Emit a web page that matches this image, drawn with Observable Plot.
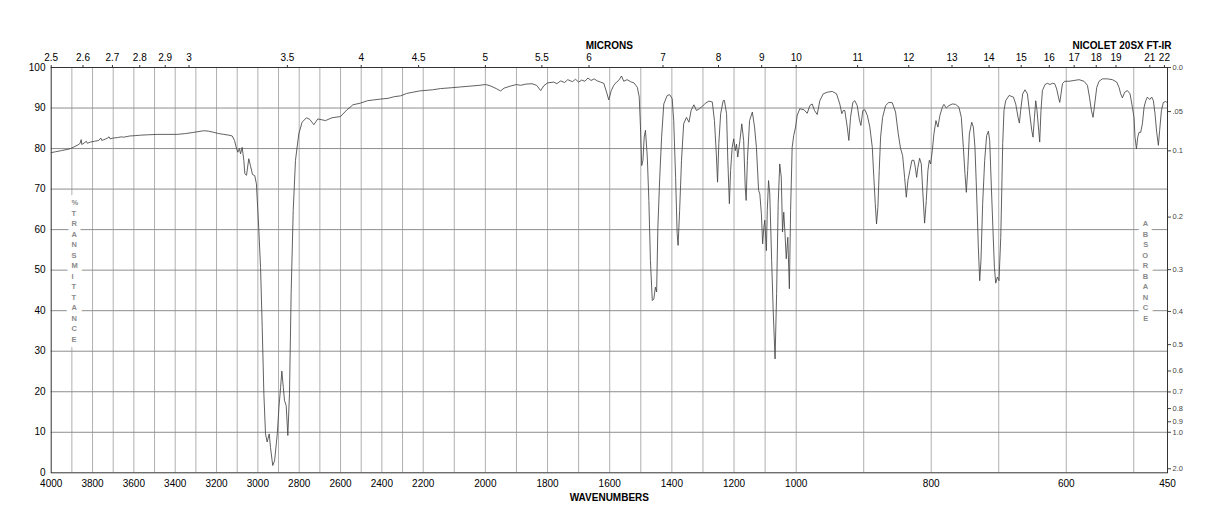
<!DOCTYPE html>
<html><head><meta charset="utf-8">
<script src="https://cdn.jsdelivr.net/npm/d3@7"></script>
<script src="https://cdn.jsdelivr.net/npm/@observablehq/plot@0.6"></script>
<style>body{margin:0;background:#fff}</style>
</head><body><div id="chart"></div>
<script>
// Spectrum (wavenumber cm-1, % transmittance)
const wavenumbers = [
4000,3980,3950,3920,3907,3890,3870,3860,3855,3852,3840,3830,3825,3810,3790,3770,3760,3755,3745,3730,3720,3715,3700,3680,3660,3649,3620,3590,3568,3530,3487,3440,3390,3350,3310,3262,3240,3213,3190,3165,3140,3124,3113,3103,3097,3089,3084,3076,3068,3063,3055,3044,3036,3026,3015,3007,2996,2987,2979,2971,2963,2955,2945,2939,2928,2919,2906,2898,2890,2884,2877,2871,2863,2855,2847,2839,2829,2818,2802,2786,2765,2749,2729,2710,2690,2673,2641,2600,
2570,2540,2504,2470,2440,2407,2370,2340,2310,2280,2250,2220,2200,2170,2144,2110,2080,2050,2020,1999,1985,1965,1951,1940,1920,1900,1887,1870,1850,1835,1822,1812,1800,1780,1770,1758,1745,1735,1720,1710,1700,1690,1680,1670,1660,1650,1640,
1629.5,1619,1610,1603,1595,1587,1578,1571,1562,1555,1544,1533,1522,1511,1505,1501,1497,1493,1489,1485,1479,1474,1469,1463,1458,1453,1449,1445,1439,1433,1426,1415,1407,1399,1394,1388,1383,1380,1375,1369,1362,1353,1345,1338,1329,1321,1312,1302,1292,1281,1270,1263,1257,1253,1249,1243,1235,1231,1224,1220,1215,1211,1206,1201,1196,1192,1188,1181,1175,1169,1164,1161,1157,1150,1141,1134,1128,1121,1117,1112,1108,1104,1101,1096,1093,1089,1085,1079,1074,1068,1063,1058,1053,1048,1044,1040,1036,1032,1027,1022,1018,1013,1008,1002,
998.5,994.7,988.7,983.7,979.8,976.3,972.9,968.9,965,960,954,946.6,940.2,935.4,932.4,930.3,928,924.4,922,919.5,916.1,913.1,909.6,906.6,904.2,901.3,898.3,894.7,890.9,887.3,885,882.9,881,879,877,875,872,867.6,862.7,857.7,852.8,848.8,845.4,842.4,839.4,836.9,834.5,831.6,828.6,825.6,823.6,821.6,819.7,817.2,814.7,812.3,809.8,807.3,804.9,802.8,800.9,798.4,796,793,790.1,787.1,783.5,781.2,777.6,773.8,768.7,763.8,758.9,755.4,752.4,750,748,746,743.5,740,737.6,735.2,732.7,730.2,728.2,726.3,723.8,720.8,717.9,715.3,713.4,710.9,708.5,706.4,704.5,702,699.6,697,695.6,694.1,692.2,689.7,684.7,678.3,674.8,671.4,669.4,667.5,664.5,661.1,657.5,654.1,651.1,649.2,647.1,645.2,643.3,641.2,639.3,637.4,635.3,631.4,628,624.1,620.5,617.1,614.1,611.6,609.6,607.7,605.6,602.2,595.8,588.4,581,573.6,568.6,565.6,562.7,560.3,557.8,554.8,551.4,546.4,539,531.6,525.2,521.8,519.3,516.8,513.4,509.4,505.5,502,499.6,498.1,496,494.1,492.2,489.7,487.2,484.7,482.2,479.8,476.3,473.4,470.9,468.5,466,463.5,461.6,459,456.1,452.7,450
];
const transmittance = [
79.0,79.2,79.5,79.8,80.0,80.4,80.9,81.3,82.2,81.0,81.4,81.8,81.3,81.6,81.8,82.0,82.6,82.0,82.2,82.5,82.9,82.4,82.6,82.7,82.9,82.8,83.1,83.2,83.3,83.4,83.5,83.5,83.5,83.7,84.0,84.4,84.3,84.0,83.7,83.5,83.3,83.1,82.0,80.0,79.1,80.0,78.7,80.3,77.1,73.8,73.4,77.5,75.8,73.6,73.3,71.3,60.6,50.7,35.9,19.5,9.6,7.6,9.6,6.3,1.8,3.0,9.6,16.2,21.1,25.1,21.1,17.8,16.6,9.2,19.5,44.2,64.7,77.1,83.6,86.5,87.6,87.2,85.9,87.3,87.1,86.9,87.6,87.9,
89.5,90.8,91.2,91.8,92.0,92.2,92.4,92.8,93.0,93.6,93.9,94.2,94.3,94.5,94.8,95.0,95.2,95.4,95.6,95.8,95.5,94.8,94.2,94.9,95.4,95.8,95.6,95.9,96.0,95.6,94.3,95.5,96.2,96.4,96.0,96.7,96.3,97.0,96.5,97.1,96.4,96.9,96.6,97.4,96.8,97.2,96.7,
96.4,96.1,93.9,92.0,94.3,95.6,96.4,96.8,97.9,96.6,97.0,96.5,96.2,95.1,92.7,85.3,75.8,77.1,82.8,84.5,77.9,67.2,52.4,42.5,42.9,45.8,44.6,60.6,72.9,82.8,91.0,93.1,93.3,92.3,86.9,72.9,59.0,56.1,64.7,77.1,86.1,87.7,86.5,89.4,90.8,89.4,89.8,90.4,91.2,91.7,91.5,86.9,78.7,71.7,81.2,88.6,91.8,91.9,88.6,77.1,66.4,74.6,80.3,82.4,79.5,81.1,77.9,82.0,86.1,82.0,70.5,67.2,77.1,86.9,89.0,85.3,80.3,69.7,68.8,63.9,56.5,60.6,62.3,54.8,64.7,72.1,68.8,52.4,40.0,28.1,44.2,66.4,76.2,72.9,59.4,64.3,59.0,52.8,58.1,45.4,64.7,80.3,83.2,85.3,
88.2,89.8,89.6,88.7,90.6,91.0,89.4,88.4,91.8,93.5,93.9,94.1,93.5,91.0,88.6,89.4,89.4,85.3,82.0,87.7,91.4,91.8,90.6,87.3,85.7,89.4,89.6,88.2,85.3,80.3,72.9,66.4,61.4,65.5,74.6,82.8,87.7,90.6,91.4,91.3,89.0,83.6,80.0,78.3,72.9,68.0,72.1,74.6,77.1,77.1,75.4,72.9,75.4,77.6,76.2,68.8,61.6,67.2,74.6,77.1,76.2,79.5,83.6,86.9,85.3,88.2,90.2,90.9,90.0,90.6,91.0,90.9,90.2,87.7,80.3,73.8,69.2,74.6,83.6,86.5,85.3,80.3,68.8,55.7,47.4,52.4,66.4,77.1,83.2,84.3,82.0,70.5,59.8,50.7,46.8,48.3,47.4,58.1,68.8,81.2,89.4,91.8,93.1,92.7,91.0,87.7,86.3,89.4,93.5,94.5,93.5,88.6,84.5,82.8,87.7,91.8,89.4,85.3,81.6,89.4,94.3,95.8,96.1,95.8,96.1,96.0,94.7,92.7,91.4,93.5,96.0,96.6,96.6,96.8,97.0,96.6,95.6,92.7,89.4,87.7,91.0,95.1,96.6,97.2,97.2,97.0,96.4,95.1,93.5,92.5,93.9,94.3,93.5,90.2,87.7,82.8,79.9,82.8,84.0,84.0,86.1,90.2,91.8,92.7,92.1,92.7,91.8,88.6,84.0,80.8,84.5,89.4,91.4,91.6,91.3
];

// Axes
const wavenumberTicks = [4000,3800,3600,3400,3200,3000,2800,2600,2400,2200,2000,1800,1600,1400,1200,1000,800,600,450];
const micronTicks = [2.5,2.6,2.7,2.8,2.9,3,3.5,4,4.5,5,5.5,6,7,8,9,10,11,12,13,14,15,16,17,18,19,21,22];
const transmittanceTicks = [0,10,20,30,40,50,60,70,80,90,100];
const absorbanceTicks = [0,0.05,0.1,0.2,0.3,0.4,0.5,0.6,0.7,0.8,0.9,1.0,2.0];
const absorbanceLabels = ["0.0",".05","0.1","0.2","0.3","0.4","0.5","0.6","0.7","0.8","0.9","1.0","2.0"];
const gridWavenumbers = [3900,3800,3700,3600,3500,3400,3300,3200,3100,3000,2900,2800,2700,2600,2500,2400,2300,2200,2100,2000,1900,1800,1700,1600,1500,1400,1300,1200,1100,1000,900,800,700,600,500];
const gridTransmittance = [10,20,30,40,50,60,70,80,90];
// x-scale break points (wavenumber) of the chart paper
const xBreaks = [4000,2200,1000,450];

const spectrum = wavenumbers.map((w, i) => ({w, t: transmittance[i]}));
const absT = absorbanceTicks.map(a => 100 * Math.pow(10, -a));

const font = "'Liberation Sans', Arial, Helvetica, sans-serif";
const chart = Plot.plot({
  width: 1218,
  height: 528,
  marginLeft: 50.7,
  marginRight: 51,
  marginTop: 67,
  marginBottom: 55.7,
  x: {type: "linear", domain: xBreaks, range: [50.7, 422.7, 795.7, 1167]},
  y: {type: "linear", domain: [0, 100], range: [472.3, 67]},
  style: {fontFamily: font, fontSize: "10px", background: "white", color: "black"},
  marks: [
    Plot.gridX({ticks: gridWavenumbers, stroke: "#b0b0b0", strokeOpacity: 1}),
    Plot.gridY({ticks: gridTransmittance, stroke: "#8e8e8e", strokeOpacity: 1}),
    Plot.text(["%\nT\nR\nA\nN\nS\nM\nI\nT\nT\nA\nN\nC\nE"], {
      text: d => d, frameAnchor: "left", dx: 20.3, fontSize: 7.5, fontWeight: "bold", lineHeight: 1.4,
      fill: "#8a8a8a", stroke: "white", strokeWidth: 10, paintOrder: "stroke"
    }),
    Plot.text(["A\nB\nS\nO\nR\nB\nA\nN\nC\nE"], {
      text: d => d, frameAnchor: "right", dx: -19.3, fontSize: 7.5, fontWeight: "bold", lineHeight: 1.4,
      fill: "#8a8a8a", stroke: "white", strokeWidth: 10, paintOrder: "stroke"
    }),
    Plot.line(spectrum, {x: "w", y: "t", stroke: "#444", strokeWidth: 0.85}),
    Plot.frame({stroke: "#333", strokeWidth: 1}),
    Plot.axisX({anchor: "bottom", ticks: wavenumberTicks, tickSize: 0, tickPadding: 7.4,
      tickFormat: d => String(d), label: null, fontSize: 10}),
    Plot.axisX({anchor: "top", ticks: micronTicks.map(m => 1e4 / m), tickSize: 3, tickPadding: 3.5,
      tickFormat: d => String(+(1e4 / d).toFixed(1)), label: null, fontSize: 10, stroke: "#333"}),
    Plot.axisY({anchor: "left", ticks: transmittanceTicks, tickSize: 0, tickPadding: 5.7,
      tickFormat: d => String(d), label: null, fontSize: 10}),
    Plot.axisY({anchor: "right", ticks: absT, tickSize: 3, tickPadding: 2,
      tickFormat: d => absorbanceLabels[absT.indexOf(d)], label: null, fontSize: 7.5,
      fill: "#444", stroke: "#444"}),
    Plot.text(["MICRONS"], {text: d => d, frameAnchor: "top", dy: -21.5, fontWeight: "bold", fontSize: 10, lineAnchor: "middle"}),
    Plot.text(["NICOLET 20SX FT-IR"], {text: d => d, frameAnchor: "top-right", textAnchor: "end", dx: 4, dy: -21.5, fontWeight: "bold", fontSize: 10, lineAnchor: "middle"}),
    Plot.text(["WAVENUMBERS"], {text: d => d, frameAnchor: "bottom", dy: 24.7, fontWeight: "bold", fontSize: 10, lineAnchor: "middle"})
  ]
});
document.getElementById("chart").appendChild(chart);
</script>
</body></html>
